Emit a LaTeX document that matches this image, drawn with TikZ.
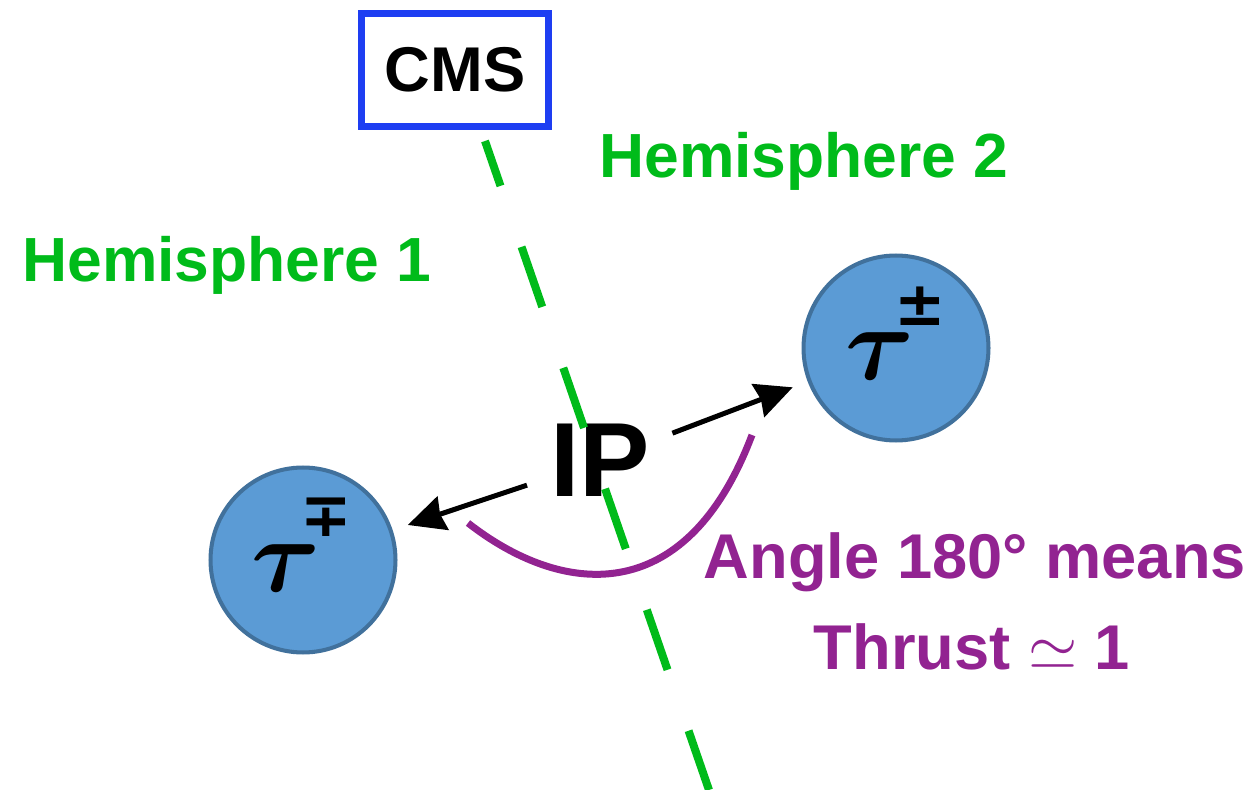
\RequirePackage{fix-cm}
\documentclass[tikz,border=0pt]{standalone}
\usepackage{amsmath}
\usepackage{bm}
\usepackage{fontspec}
\setmainfont{Liberation Sans}
\newfontfamily\signfont{DejaVu Sans}
\usetikzlibrary{arrows.meta, positioning}
\definecolor{hemigreen}{HTML}{00BB1A}
\definecolor{thrustpurple}{HTML}{922391}
\definecolor{taublue}{HTML}{5B9BD5}
\definecolor{tauedge}{HTML}{41719C}
\definecolor{cmsblue}{HTML}{1E3EF2}

\newcommand{\taucharge}[1]{{\fontsize{60}{60}\selectfont$\bm{\tau}$}\kern-0.4cm%
  \raisebox{1.1cm}{\signfont\bfseries\fontsize{35}{35}\selectfont #1}}

\begin{document}
\begin{tikzpicture}[
  x=0.02cm, y=-0.02cm,
  particle/.style={circle, draw=tauedge, fill=taublue, line width=2.3pt,
    minimum size=3.7cm, inner sep=0pt},
  charge/.style={anchor=base west, inner sep=0pt},
  hemi/.style={text=hemigreen, anchor=base, inner sep=0pt,
    font=\bfseries\fontsize{35.5}{40}\selectfont},
  note/.style={text=thrustpurple, anchor=base, inner sep=0pt,
    font=\bfseries\fontsize{36}{40}\selectfont},
  >={Stealth[length=0.74cm, width=0.7cm, inset=0.06cm]}
]
  \useasboundingbox (0,0) rectangle (1258,790);

  % Taus
  \node[particle] (taum) at (303,560) {};
  \node[particle] (taup) at (896,348) {};
  \node[charge] (taumlabel) at ([shift={(-52,31)}]taum.center) {\taucharge{∓}};
  \node[charge] (tauplabel) at ([shift={(-51,32)}]taup.center) {\taucharge{±}};

  % Interaction point
  \node[anchor=base, inner sep=0pt, font=\bfseries\fontsize{60}{60}\selectfont]
    (ip) at (600,497) {IP};

  % Back-to-back taus
  \draw[->, line width=0.1cm, shorten <=1.54cm, shorten >=0.32cm]
    (ip.center) -- (taum);
  \draw[->, line width=0.1cm, shorten <=1.55cm, shorten >=0.32cm]
    (ip.center) -- (taup);

  % Opening angle
  \coordinate (arcstart) at (468,523);
  \coordinate (arcend) at (752,435);
  \draw[thrustpurple, line width=0.14cm]
    (arcstart) .. controls (560,595) and (685,612) .. (arcend);

  % Thrust plane
  \coordinate (axtop) at (485,141);
  \coordinate (axbot) at (709,790);
  \draw[hemigreen, line width=0.16cm,
    dash pattern=on 1.27cm off 1.29cm, dash phase=0.32cm] (axtop) -- (axbot);

  % Experiment
  \node[draw=cmsblue, fill=white, line width=0.14cm, minimum width=3.74cm,
    minimum height=2.26cm, inner sep=0pt,
    font=\bfseries\fontsize{36}{40}\selectfont] (cms) at (455,70) {CMS};

  % Labels
  \node[hemi] (hemione) at (227,282) {Hemisphere 1};
  \node[hemi] (hemitwo) at (804,178) {Hemisphere 2};
  \node[note] (angle) at (975,578) {Angle 180° means};
  \node[note] (thrust) at (972,669) {Thrust $\simeq$ 1};
\end{tikzpicture}
\end{document}
